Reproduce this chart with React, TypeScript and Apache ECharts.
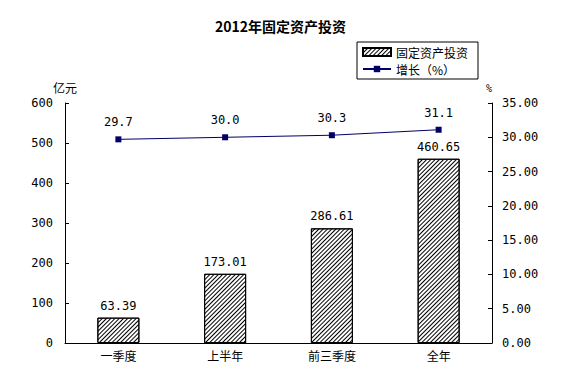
import React, { useEffect, useRef } from "react";
import * as echarts from "echarts";

const categories = ["一季度", "上半年", "前三季度", "全年"];
const investValues = [63.39, 173.01, 286.61, 460.65];
const growthValues = [29.7, 30.0, 30.3, 31.1];
const titleText = "2012年固定资产投资";
const seriesNames = ["固定资产投资", "增长（%）"];

const FONT = '"DejaVu Sans Mono", "Noto Sans CJK SC", monospace';
const CJK = '"Noto Sans CJK SC", sans-serif';

export default function App() {
  const ref = useRef<HTMLDivElement>(null);
  useEffect(() => {
    document.body.style.margin = "0";
    const chart = echarts.init(ref.current!, null, { renderer: "svg" });
    chart.setOption({
      animation: false,
      backgroundColor: "#fff",
      title: {
        text: titleText,
        left: "center",
        top: 14,
        textStyle: { fontFamily: CJK, fontSize: 14, fontWeight: "bold", color: "#000" },
      },
      legend: {
        orient: "vertical",
        left: 357,
        top: 42,
        padding: [4, 10, 4, 5],
        itemGap: 5,
        itemWidth: 28,
        itemHeight: 8,
        borderColor: "#000",
        borderWidth: 1,
        borderRadius: 0,
        textStyle: { fontFamily: CJK, fontSize: 12, color: "#000" },
        data: [{ name: seriesNames[0], icon: "rect" }, { name: seriesNames[1] }],
      },
      grid: { left: 65, right: 69, top: 103, bottom: 33, containLabel: false },
      xAxis: {
        type: "category",
        data: categories,
        boundaryGap: true,
        axisLine: { lineStyle: { color: "#000", width: 1 } },
        axisTick: { inside: true, length: 4, lineStyle: { color: "#000" } },
        axisLabel: { fontFamily: CJK, fontSize: 12, color: "#000", margin: 6 },
      },
      yAxis: [
        {
          type: "value",
          min: 0,
          max: 600,
          interval: 100,
          name: "亿元",
          nameGap: 10,
          nameTextStyle: { fontFamily: CJK, fontSize: 12, color: "#000", align: "center" },
          axisLine: { show: true, lineStyle: { color: "#000" } },
          axisTick: { show: true, inside: true, length: 4, lineStyle: { color: "#000" } },
          splitLine: { show: false },
          axisLabel: { fontFamily: FONT, fontSize: 12, color: "#000", margin: 12 },
        },
        {
          type: "value",
          min: 0,
          max: 35,
          interval: 5,
          name: "%",
          nameGap: 10,
          nameTextStyle: { fontFamily: FONT, fontSize: 10, color: "#000", align: "right" },
          position: "right",
          axisLine: { show: true, lineStyle: { color: "#000" } },
          axisTick: { show: true, inside: true, length: 4, lineStyle: { color: "#000" } },
          splitLine: { show: false },
          axisLabel: {
            fontFamily: FONT,
            fontSize: 12,
            color: "#000",
            margin: 10,
            formatter: (v: number) => v.toFixed(2),
          },
        },
      ],
      series: [
        {
          name: seriesNames[0],
          type: "bar",
          data: investValues,
          barWidth: 42,
          itemStyle: {
            color: "#fff",
            borderColor: "#000",
            borderWidth: 1,
            decal: {
              symbol: "rect",
              symbolSize: 1,
              dashArrayX: [1, 0],
              dashArrayY: [1, 2],
              rotation: -Math.PI / 4,
              color: "#000",
            },
          },
          label: {
            show: true,
            position: "top",
            distance: 6,
            fontFamily: FONT,
            fontSize: 12,
            color: "#000",
            formatter: (p: any) => p.value.toFixed(2),
          },
        },
        {
          name: seriesNames[1],
          type: "line",
          yAxisIndex: 1,
          data: growthValues,
          symbol: "rect",
          symbolSize: 6,
          lineStyle: { color: "#000066", width: 1 },
          itemStyle: { color: "#000066" },
          label: {
            show: true,
            position: "top",
            distance: 8,
            fontFamily: FONT,
            fontSize: 12,
            color: "#000",
            formatter: (p: any) => p.value.toFixed(1),
          },
        },
      ],
    });
    return () => chart.dispose();
  }, []);
  return (
    <div
      ref={ref}
      style={{ position: "fixed", left: 0, top: 0, width: 561, height: 376 }}
    />
  );
}
